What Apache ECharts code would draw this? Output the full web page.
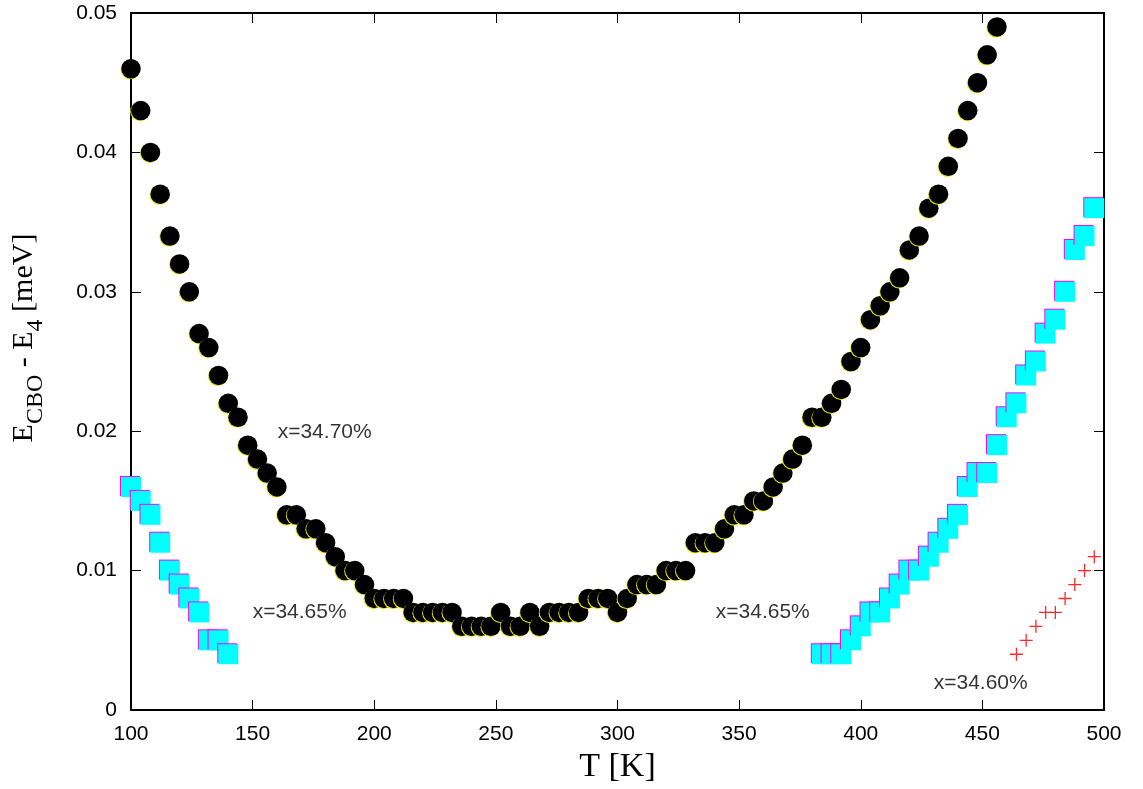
<!DOCTYPE html>
<html>
<head>
<meta charset="utf-8">
<script src="https://cdn.jsdelivr.net/npm/echarts@6/dist/echarts.min.js"></script>
<style>
html,body{margin:0;padding:0;background:#fff;}
#chart{width:1143px;height:789px;}
</style>
</head>
<body>
<div id="chart"></div>
<script>
// x = 34.70 %  (black circles)
const blackT = [100,104,108,112,116,120,124,128,132,136,140,144,148,152,156,160,164,168,172,176,
  180,184,188,192,196,200,204,208,212,216,220,224,228,232,236,240,244,248,252,256,
  260,264,268,272,276,280,284,288,292,296,300,304,308,312,316,320,324,328,332,336,
  340,344,348,352,356,360,364,368,372,376,380,384,388,392,396,400,404,408,412,416,
  420,424,428,432,436,440,444,448,452,456];
const blackE = [0.046,0.043,0.040,0.037,0.034,0.032,0.030,0.027,0.026,0.024,0.022,0.021,0.019,0.018,0.017,0.016,0.014,0.014,0.013,0.013,
  0.012,0.011,0.010,0.010,0.009,0.008,0.008,0.008,0.008,0.007,0.007,0.007,0.007,0.007,0.006,0.006,0.006,0.006,0.007,0.006,
  0.006,0.007,0.006,0.007,0.007,0.007,0.007,0.008,0.008,0.008,0.007,0.008,0.009,0.009,0.009,0.010,0.010,0.010,0.012,0.012,
  0.012,0.013,0.014,0.014,0.015,0.015,0.016,0.017,0.018,0.019,0.021,0.021,0.022,0.023,0.025,0.026,0.028,0.029,0.030,0.031,
  0.033,0.034,0.036,0.037,0.039,0.041,0.043,0.045,0.047,0.049];

// x = 34.65 %  (cyan squares), low-T branch and high-T branch
const cyanLowT = [100,104,108,112,116,120,124,128,132,136,140];
const cyanLowE = [0.016,0.015,0.014,0.012,0.010,0.009,0.008,0.007,0.005,0.005,0.004];
const cyanHighT = [384,388,392,396,400,404,408,412,416,420,424,428,432,436,440,444,448,452,456,460,464,468,472,476,480,484,488,492,496];
const cyanHighE = [0.004,0.004,0.004,0.005,0.006,0.007,0.007,0.008,0.009,0.010,0.010,0.011,0.012,0.013,0.014,0.016,0.017,0.017,0.019,0.021,0.022,0.024,0.025,0.027,0.028,0.030,0.033,0.034,0.036];

// x = 34.60 %  (red crosses)
const redT = [464,468,472,476,480,484,488,492,496];
const redE = [0.004,0.005,0.006,0.007,0.007,0.008,0.009,0.010,0.011];

// curve annotations (text anchored at its left edge, in data coordinates)
const noteText = ['x=34.70%','x=34.65%','x=34.65%','x=34.60%'];
const noteT = [160.3,150.0,340.4,430.0];
const noteE = [0.0199,0.0070,0.0070,0.0019];

const xTicks = {min:100, max:500, interval:50};
const yTicks = {min:0, max:0.05, interval:0.01};

// y-axis title pieces: [text, isSubscript]
const yTitleParts = [['E',false],['CBO',true],[' - E',false],['4',true],[' [meV]',false]];

const zip = (a,b) => a.map((v,i)=>[v,b[i]]);

// build the rotated y title with real subscripts
const MAIN_FONT = '30px "Liberation Serif"';
const SUB_FONT = '24px "Liberation Serif"';
const mctx = document.createElement('canvas').getContext('2d');
function tw(t, f){ mctx.font = f; return mctx.measureText(t).width; }
const widths = yTitleParts.map(p => tw(p[0], p[1] ? SUB_FONT : MAIN_FONT));
const total = widths.reduce((a,b)=>a+b,0);
let cur = -total/2;
const titleChildren = yTitleParts.map((p,i) => {
  const el = {type:'text', x:cur, y:p[1] ? 12 : 0,
    style:{text:p[0], font:p[1] ? SUB_FONT : MAIN_FONT, fill:'#000', align:'left', verticalAlign:'middle'}};
  cur += widths[i];
  return el;
});

const chart = echarts.init(document.getElementById('chart'), null, {renderer:'canvas'});

const axisCommon = {
  axisLine:{show:true, onZero:false, lineStyle:{color:'#000', width:2}},
  axisTick:{show:true, inside:true, length:10, lineStyle:{color:'#000', width:1}},
  splitLine:{show:false}
};

const option = {
  backgroundColor:'#fff',
  animation:false,
  grid:{left:131, top:13, width:973, height:697, containLabel:false},
  xAxis:[
    Object.assign({type:'value', position:'bottom', min:xTicks.min, max:xTicks.max, interval:xTicks.interval,
      axisLabel:{show:true, margin:14, color:'#000', fontSize:21, fontFamily:'Liberation Sans'},
      name:'T [K]', nameLocation:'middle', nameGap:39,
      nameTextStyle:{color:'#000', fontSize:34, fontFamily:'Liberation Serif'}}, axisCommon),
    Object.assign({type:'value', position:'top', min:xTicks.min, max:xTicks.max, interval:xTicks.interval,
      axisLabel:{show:false}}, axisCommon)
  ],
  yAxis:[
    Object.assign({type:'value', position:'left', min:yTicks.min, max:yTicks.max, interval:yTicks.interval,
      axisLabel:{show:true, margin:14, color:'#000', fontSize:21, fontFamily:'Liberation Sans',
        formatter:v => (Math.abs(v)<1e-9 ? '0' : v.toFixed(2))}}, axisCommon),
    Object.assign({type:'value', position:'right', min:yTicks.min, max:yTicks.max, interval:yTicks.interval,
      axisLabel:{show:false}}, axisCommon)
  ],
  graphic:[{
    type:'group', x:24, y:338, rotation:Math.PI/2,
    children:titleChildren
  }],
  series:[
    {
      name:'x=34.70%', type:'scatter', clip:false, symbol:'circle', symbolSize:19.5,
      data:zip(blackT, blackE),
      itemStyle:{color:'#000', shadowColor:'#e6e600', shadowBlur:0, shadowOffsetX:-0.8, shadowOffsetY:0.8, opacity:1}
    },
    {
      name:'x=34.65% low', type:'scatter', clip:false, symbol:'rect', symbolSize:20,
      data:zip(cyanLowT, cyanLowE),
      itemStyle:{color:'#00ffff', shadowColor:'#ff00ff', shadowBlur:0, shadowOffsetX:-1, shadowOffsetY:-1, opacity:1}
    },
    {
      name:'x=34.65% high', type:'scatter', clip:false, symbol:'rect', symbolSize:20,
      data:zip(cyanHighT, cyanHighE),
      itemStyle:{color:'#00ffff', shadowColor:'#ff00ff', shadowBlur:0, shadowOffsetX:-1, shadowOffsetY:-1, opacity:1}
    },
    {
      name:'x=34.60%', type:'scatter', clip:false, symbol:'path://M0,5L10,5M5,0L5,10', symbolSize:13,
      data:zip(redT, redE),
      itemStyle:{color:'none', borderColor:'#ff2a2a', borderWidth:1.3, opacity:1}
    },
    {
      name:'notes', type:'scatter', clip:false, symbolSize:0, silent:true,
      data:noteText.map((t,i)=>({name:t, value:[noteT[i], noteE[i]]})),
      itemStyle:{color:'transparent'},
      label:{show:true, position:'right', distance:0, formatter:p=>p.name,
        color:'#000', fontSize:21, fontFamily:'Liberation Sans'}
    }
  ]
};
chart.setOption(option);
</script>
</body>
</html>
